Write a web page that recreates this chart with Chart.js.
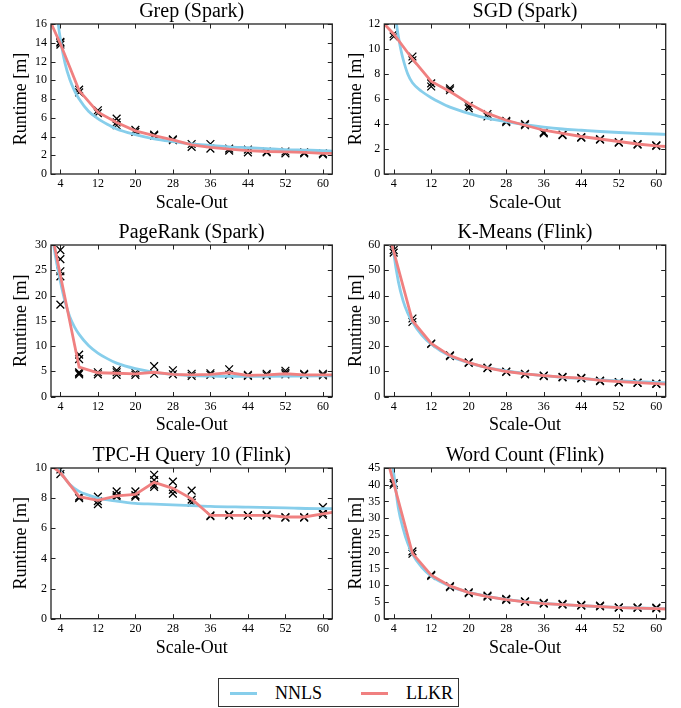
<!DOCTYPE html>
<html><head><meta charset="utf-8">
<script src="https://cdn.jsdelivr.net/npm/chart.js@4.4.1/dist/chart.umd.min.js"></script>
<style>
html,body{margin:0;padding:0;background:#fff;}
body{width:681px;height:708px;position:relative;overflow:hidden;font-family:'Liberation Serif',serif;}
canvas{position:absolute;}
#legend{position:absolute;left:218px;top:678px;width:239px;height:27px;border:1px solid #333;box-sizing:content-box;}
.sw{position:absolute;top:13px;width:27px;height:3px;}
.lt{position:absolute;top:2px;font-size:18px;line-height:24px;color:#000;}
#dbg{position:absolute;left:470px;top:670px;font-size:10px;font-family:'DejaVu Sans';color:#c00;width:210px;}
</style></head>
<body>
<canvas id="c1"></canvas><canvas id="c2"></canvas><canvas id="c3"></canvas>
<canvas id="c4"></canvas><canvas id="c5"></canvas><canvas id="c6"></canvas>
<div id="legend">
  <div class="sw" style="left:11px;background:#87CEEB"></div><div class="lt" style="left:56px">NNLS</div>
  <div class="sw" style="left:142px;background:#F08080"></div><div class="lt" style="left:187px">LLKR</div>
</div>
<div id="dbg"></div>
<script>
// ---------- data ----------
const scaleOut = [4,8,12,16,20,24,28,32,36,40,44,48,52,56,60];
const xTickValues = [4,12,20,28,36,44,52,60];
const xTickLabels = ['4','12','20','28','36','44','52','60'];
const llkrX = [2,4,8,12,16,20,24,28,32,36,40,44,48,52,56,60,62];

// Grep (Spark)
const grepRuns = [[14.1,13.8,14.0],[9.0,8.7],[6.8,6.5],[5.9,5.5,5.2],[4.7,4.5],[4.2,4.1],[3.7,3.6],[3.2,2.9],[3.2,2.7],[2.7,2.5],[2.6,2.3],[2.4,2.3],[2.4,2.2],[2.3,2.2],[2.2,2.1]];
const grepLlkr = [16.1,13.9,8.9,6.6,5.5,4.6,4.1,3.65,3.1,2.85,2.65,2.5,2.4,2.35,2.3,2.2,2.2];
const grepNnlsX = [3.4,3.6,4,5,6,7,8,10,12,14,16,20,24,28,32,36,40,44,48,52,56,60,62];
const grepNnlsY = [17.0,15.8,14.4,11.8,10.1,8.9,8.0,6.7,5.9,5.3,4.8,4.2,3.75,3.45,3.2,3.05,2.9,2.8,2.7,2.6,2.55,2.5,2.45];
const grepYTicks = [0,2,4,6,8,10,12,14,16];

// SGD (Spark)
const sgdRuns = [[11.0,11.2],[9.4,9.1],[7.25,7.0],[6.85,6.7],[5.45,5.25],[4.8,4.6],[4.25,4.15],[3.9,4.0],[3.35,3.25],[3.15,3.1],[2.95,2.9],[2.75,2.8],[2.5,2.55],[2.4,2.35],[2.25,2.3]];
const sgdLlkr = [12.0,11.2,9.2,7.4,6.6,5.65,4.85,4.3,3.9,3.5,3.25,3.0,2.8,2.6,2.4,2.25,2.2];
const sgdNnlsX = [4.3,4.6,5,5.5,6,7,8,10,12,14,16,20,24,28,32,36,40,44,48,52,56,60,62];
const sgdNnlsY = [13.0,12.0,11.0,10.0,9.2,8.0,7.3,6.6,6.1,5.7,5.35,4.85,4.45,4.2,3.95,3.75,3.6,3.5,3.4,3.32,3.25,3.2,3.17];
const sgdYTicks = [0,2,4,6,8,10,12];

// PageRank (Spark)
const prRuns = [[29.0,27.2,24.8,23.8,18.2],[8.3,7.4,4.8,4.4,4.6],[4.8,4.4],[5.2,4.8,4.3],[4.7,4.3],[6.0,4.5],[5.2,4.4],[4.5,4.1],[4.6,4.3],[5.4,4.3],[4.3,4.1],[4.5,4.2],[5.1,4.7,4.4],[4.5,4.3],[4.5,4.2]];
const prLlkr = [33.2,24.0,5.8,4.7,4.6,4.5,4.8,4.4,4.3,4.4,4.7,4.2,4.3,4.5,4.3,4.3,4.3];
const prNnlsX = [2.4,3,4,5,6,7,8,10,12,14,16,20,24,28,32,36,40,48,56,62];
const prNnlsY = [31.0,27.5,22.8,18.8,15.8,13.8,12.3,10.1,8.6,7.5,6.6,5.5,4.8,4.4,4.15,4.05,4.0,4.0,4.05,4.1];
const prYTicks = [0,5,10,15,20,25,30];

// K-Means (Flink)
const kmRuns = [[58.0,57.0],[30.9,29.5],[21.0,20.8],[16.3,16.0],[13.3,13.5],[11.4,11.2],[9.7,9.9],[8.8,9.0],[8.3,8.1],[7.8,7.6],[7.4,7.2],[6.3,6.1],[5.7,5.6],[5.5,5.4],[5.0,5.1]];
const kmLlkr = [71.3,57.5,30.0,21.0,16.2,13.4,11.3,9.9,9.0,8.3,7.7,7.3,6.4,5.9,5.5,5.1,4.9];
const kmNnlsX = [3.7,4,5,6,7,8,10,12,16,20,24,28,32,36,40,44,48,52,56,60,62];
const kmNnlsY = [62,57,45.5,38,33,29.5,24.3,20.7,16.0,13.3,11.4,10.1,9.1,8.3,7.6,7.1,6.6,6.2,5.9,5.6,5.5];
const kmYTicks = [0,10,20,30,40,50,60];

// TPC-H Query 10 (Flink)
const tpcRuns = [[9.9,9.6],[8.1,8.0],[8.1,7.8,7.6],[8.45,8.2,8.1],[8.45,8.2,8.1],[9.55,9.2,8.9,8.75],[9.1,8.55,8.3],[8.5,7.9,7.7],[6.85,6.8],[6.9,6.85],[6.85,6.85],[6.9,6.85],[6.7,6.75],[6.7,6.75],[7.4,7.0,6.9]];
const tpcLlkr = [10.16,9.7,8.1,7.85,8.15,8.25,9.05,8.65,7.95,6.85,6.85,6.85,6.85,6.75,6.75,6.95,7.05];
const tpcNnlsX = [3.4,4,5,6,8,10,12,16,20,24,28,32,36,44,52,60,62];
const tpcNnlsY = [10.3,9.8,9.3,8.9,8.45,8.2,8.0,7.8,7.65,7.6,7.55,7.5,7.45,7.4,7.35,7.3,7.3];
const tpcYTicks = [0,2,4,6,8,10];

// Word Count (Flink)
const wcRuns = [[40.5,40.0],[20.1,19.4],[13.1,12.8],[9.7,9.4],[7.9,7.6],[6.9,6.6],[5.9,5.6],[5.2,5.0],[4.7,4.5],[4.4,4.2],[4.1,3.9],[3.9,3.7],[3.4,3.3],[3.4,3.2],[3.3,3.1]];
const wcLlkr = [50.9,40.5,19.5,13.0,9.8,7.8,6.6,5.7,5.0,4.5,4.2,3.9,3.6,3.3,3.15,3.0,2.9];
const wcNnlsX = [3.5,4,5,6,7,8,10,12,16,20,24,28,32,36,40,44,48,52,56,60,62];
const wcNnlsY = [48,43.5,33,27,22.5,19.3,15.3,12.7,9.7,7.9,6.7,5.8,5.1,4.6,4.2,3.9,3.6,3.4,3.2,3.05,3.0];
const wcYTicks = [0,5,10,15,20,25,30,35,40,45];

// ---------- rendering ----------
const BLUE = '#87CEEB', RED = '#F08080';
const FONT = "'Liberation Serif', 'Times New Roman', serif";

function drawFrame(chart) {
  const ctx = chart.ctx;
  const a = chart.chartArea;
  const xs = chart.scales.x, ys = chart.scales.y;
  const TL = 4.5;
  ctx.save();
  ctx.strokeStyle = '#222';
  ctx.lineWidth = 1;
  ctx.beginPath();
  xs.ticks.forEach(t => {
    const px = Math.round(xs.getPixelForValue(t.value)) + 0.5;
    ctx.moveTo(px, a.bottom); ctx.lineTo(px, a.bottom - TL);
    ctx.moveTo(px, a.top); ctx.lineTo(px, a.top + TL);
  });
  ys.ticks.forEach(t => {
    const py = Math.round(ys.getPixelForValue(t.value)) + 0.5;
    ctx.moveTo(a.left, py); ctx.lineTo(a.left + TL, py);
    ctx.moveTo(a.right, py); ctx.lineTo(a.right - TL, py);
  });
  ctx.stroke();
  ctx.lineWidth = 1.3;
  ctx.strokeRect(a.left, a.top, a.right - a.left, a.bottom - a.top);
  ctx.restore();
}

const frameTicks = {
  id: 'frameTicks',
  afterDraw(chart) {
    try { drawFrame(chart); }
    catch (e) { document.getElementById('dbg').textContent += ' ' + e.message; }
  }
};

function pts(xs, ys) { return xs.map((x, i) => ({x: x, y: ys[i]})); }
function runPts(runs) {
  const out = [];
  runs.forEach((vals, i) => vals.forEach(v => out.push({x: scaleOut[i], y: v})));
  return out;
}

function panel(id, p) {
  const cv = document.getElementById(id);
  cv.width = p.w; cv.height = p.h;
  cv.style.left = p.left + 'px'; cv.style.top = p.top + 'px';
  cv.style.width = p.w + 'px'; cv.style.height = p.h + 'px';
  const yTicks = p.yTicks;
  return new Chart(cv, {
    type: 'scatter',
    data: {
      datasets: [
        {label: 'LLKR', data: pts(llkrX, p.llkr), showLine: true, borderColor: RED, backgroundColor: RED,
         borderWidth: 2.8, pointRadius: 0, tension: 0, clip: 0, fill: false},
        {label: 'NNLS', data: pts(p.nnlsX, p.nnlsY), showLine: true, borderColor: BLUE, backgroundColor: BLUE,
         borderWidth: 2.8, pointRadius: 0, cubicInterpolationMode: 'monotone', capBezierPoints: false, clip: 0, fill: false},
        {label: 'runs', data: runPts(p.runs), showLine: false, pointStyle: 'crossRot', pointRadius: 5.5,
         pointBorderColor: '#000', pointBackgroundColor: '#000', pointBorderWidth: 1.3, borderColor: '#000'}
      ]
    },
    options: {
      responsive: false, animation: false, devicePixelRatio: 1, events: [],
      layout: {padding: {left: 0, right: p.w - p.areaRight, top: 0, bottom: 0}},
      plugins: {
        legend: {display: false}, tooltip: {enabled: false},
        title: {display: true, text: p.title, fullSize: false, color: '#000',
                font: {family: FONT, size: 20, weight: 'normal', lineHeight: 1},
                padding: {top: 1.5, bottom: 2.5}}
      },
      scales: {
        x: {
          type: 'linear', min: 2, max: 62,
          afterBuildTicks: s => { s.ticks = xTickValues.map(v => ({value: v})); },
          afterFit: s => { s.height = p.h - p.areaBottom; },
          grid: {display: false, drawTicks: false}, border: {display: false},
          ticks: {autoSkip: false, maxRotation: 0, padding: 3, color: '#000',
                  font: {family: FONT, size: 12},
                  callback: (v) => xTickLabels[xTickValues.indexOf(v)]},
          title: {display: true, text: 'Scale-Out', color: '#000',
                  font: {family: FONT, size: 18, lineHeight: 1.2}, padding: {top: 0, bottom: 0.6}}
        },
        y: {
          type: 'linear', min: yTicks[0], max: yTicks[yTicks.length - 1],
          afterBuildTicks: s => { s.ticks = yTicks.map(v => ({value: v})); },
          afterFit: s => { s.width = p.areaLeft; },
          grid: {display: false, drawTicks: false}, border: {display: false},
          ticks: {autoSkip: false, padding: 4, color: '#000', font: {family: FONT, size: 12},
                  callback: v => String(v)},
          title: {display: true, text: 'Runtime [m]', color: '#000',
                  font: {family: FONT, size: 18, lineHeight: 1.2}, padding: {top: p.yTitlePad, bottom: 0}}
        }
      }
    },
    plugins: [frameTicks]
  });
}

const LEFTCOL = {w: 340, left: 0, areaLeft: 51, areaRight: 332.3, yTitlePad: 10.5};
const RIGHTCOL = {w: 341, left: 340, areaLeft: 44.3, areaRight: 325.7, yTitlePad: 5};

const charts = [];
charts.push(panel('c1', Object.assign({}, LEFTCOL, {top: 0, h: 215, areaBottom: 174, title: 'Grep (Spark)',
  runs: grepRuns, llkr: grepLlkr, nnlsX: grepNnlsX, nnlsY: grepNnlsY, yTicks: grepYTicks})));
charts.push(panel('c2', Object.assign({}, RIGHTCOL, {top: 0, h: 215, areaBottom: 174, title: 'SGD (Spark)',
  runs: sgdRuns, llkr: sgdLlkr, nnlsX: sgdNnlsX, nnlsY: sgdNnlsY, yTicks: sgdYTicks})));
charts.push(panel('c3', Object.assign({}, LEFTCOL, {top: 221, h: 216, areaBottom: 175.5, title: 'PageRank (Spark)',
  runs: prRuns, llkr: prLlkr, nnlsX: prNnlsX, nnlsY: prNnlsY, yTicks: prYTicks})));
charts.push(panel('c4', Object.assign({}, RIGHTCOL, {top: 221, h: 216, areaBottom: 175.5, title: 'K-Means (Flink)',
  runs: kmRuns, llkr: kmLlkr, nnlsX: kmNnlsX, nnlsY: kmNnlsY, yTicks: kmYTicks})));
charts.push(panel('c5', Object.assign({}, LEFTCOL, {top: 444.3, h: 216, areaBottom: 174.7, title: 'TPC-H Query 10 (Flink)',
  runs: tpcRuns, llkr: tpcLlkr, nnlsX: tpcNnlsX, nnlsY: tpcNnlsY, yTicks: tpcYTicks})));
charts.push(panel('c6', Object.assign({}, RIGHTCOL, {top: 444.3, h: 216, areaBottom: 174.7, title: 'Word Count (Flink)',
  runs: wcRuns, llkr: wcLlkr, nnlsX: wcNnlsX, nnlsY: wcNnlsY, yTicks: wcYTicks})));
</script>
</body></html>
